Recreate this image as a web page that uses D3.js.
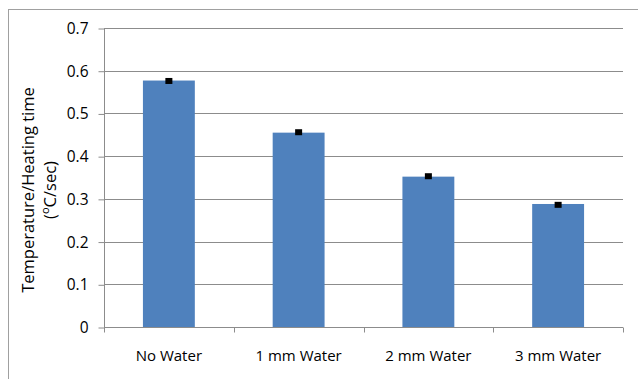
<!DOCTYPE html>
<html><head><meta charset="utf-8">
<script src="https://cdn.jsdelivr.net/npm/d3@7"></script>
<style>html,body{margin:0;padding:0;background:#fff;}svg{display:block;}</style>
</head><body>
<svg id="chart" width="638" height="379"></svg>
<script>
const categories = ["No Water", "1 mm Water", "2 mm Water", "3 mm Water"];
const barValues = [0.577, 0.455, 0.352, 0.288];
const markerValues = [0.576, 0.456, 0.353, 0.286];
const yTicks = [0, 0.1, 0.2, 0.3, 0.4, 0.5, 0.6, 0.7];
const yTitle1 = "Temperature/Heating time";

const svg = d3.select("#chart");
const font = "'Open Sans', 'Liberation Sans', Arial, sans-serif";
const L = 104, R = 623, T = 28, B = 327;

// chart area border (top & left visible)
svg.append("rect").attr("x", 8.5).attr("y", 9.5).attr("width", 700).attr("height", 400)
  .attr("fill", "#fff").attr("stroke", "#a0a0a0").attr("stroke-width", 1);

const x = d3.scaleBand().domain(categories).range([L, R]).paddingInner(0.6).paddingOuter(0.3);
const xb = d3.scaleBand().domain(categories).range([L, R]);
const y = d3.scaleLinear().domain([0, 0.7]).range([B, T]);

// gridlines
svg.append("g").selectAll("line").data(yTicks.filter(d => d > 0)).join("line")
  .attr("x1", L).attr("x2", R).attr("y1", d => Math.round(y(d)) + 0.5).attr("y2", d => Math.round(y(d)) + 0.5)
  .attr("stroke", "#8c8c8c").attr("stroke-width", 1);

// bars
svg.append("g").selectAll("rect").data(barValues).join("rect")
  .attr("x", (d, i) => x(categories[i])).attr("width", x.bandwidth())
  .attr("y", d => y(d)).attr("height", d => B - y(d))
  .attr("fill", "#4f81bd");

// markers
svg.append("g").selectAll("rect").data(markerValues).join("rect")
  .attr("x", (d, i) => x(categories[i]) + x.bandwidth() / 2 - 3.5).attr("width", 7)
  .attr("y", d => y(d) - 3).attr("height", 6).attr("fill", "#000");

// y axis
const yAxis = d3.axisLeft(y).tickValues(yTicks).tickSize(6).tickPadding(10)
  .tickFormat(d => d === 0 ? "0" : d3.format(".1f")(d));
const gy = svg.append("g").attr("transform", `translate(${L + 0.5},0.5)`).call(yAxis);
gy.select(".domain").attr("stroke", "#8c8c8c").attr("d", `M0,${T - 0.5}V${B}`);
gy.selectAll(".tick line").attr("stroke", "#8c8c8c");
gy.selectAll("text").attr("font-family", font).attr("font-size", 15.5).attr("fill", "#000");

// x axis
const gx = svg.append("g").attr("transform", `translate(0,${B + 0.5})`);
gx.append("line").attr("x1", L).attr("x2", R).attr("stroke", "#8c8c8c");
const bounds = [...categories.map(c => xb(c)), R];
gx.selectAll("line.tk").data(bounds).join("line").attr("class", "tk")
  .attr("x1", d => Math.round(d) + 0.5).attr("x2", d => Math.round(d) + 0.5).attr("y1", 0).attr("y2", 5)
  .attr("stroke", "#8c8c8c");
gx.selectAll("text").data(categories).join("text")
  .attr("x", d => xb(d) + xb.bandwidth() / 2).attr("y", 33)
  .attr("text-anchor", "middle").attr("font-family", font).attr("font-size", 15).attr("fill", "#000")
  .text(d => d);

// y title
const tt = svg.append("text").attr("transform", "translate(0,190) rotate(-90)")
  .attr("text-anchor", "middle").attr("font-family", font).attr("font-size", 16.5).attr("fill", "#000");
tt.append("tspan").attr("x", 0).attr("y", 34).text(yTitle1);
const t2 = tt.append("tspan").attr("x", 0).attr("y", 56);
t2.text("(");
t2.append("tspan").attr("baseline-shift", "super").attr("font-size", 11).text("o");
t2.append("tspan").text("C/sec)");
</script>
</body></html>
